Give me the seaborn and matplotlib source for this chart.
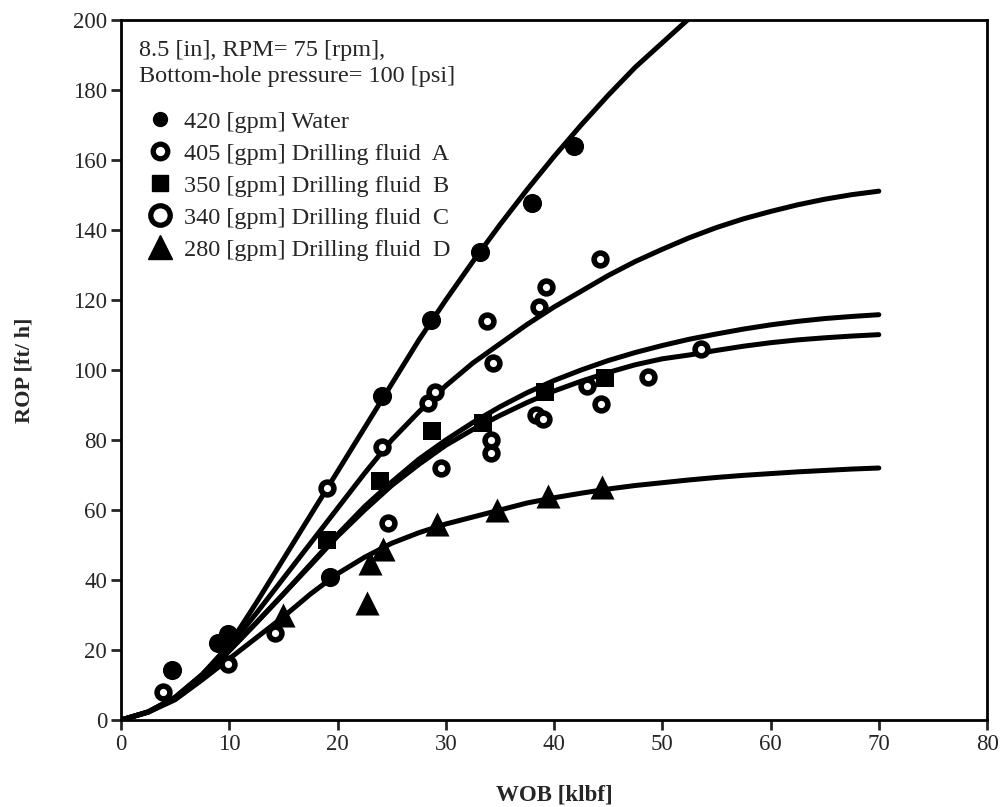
import matplotlib
matplotlib.use("Agg")
import matplotlib.pyplot as plt
from matplotlib.lines import Line2D
import seaborn as sns

# ---------------------------
# Measured points (WOB [klbf], ROP [ft/h])
# ---------------------------
water_wob = [4.7, 9.0, 9.9, 19.3, 24.1, 28.6, 33.2, 38.0, 41.8]
water_rop = [14.3, 22.0, 24.5, 40.9, 92.6, 114.3, 133.7, 147.7, 164.0]

fluid_a_wob = [19.0, 24.1, 28.4, 29.0, 33.8, 34.4, 38.6, 39.3, 44.2]
fluid_a_rop = [66.3, 78.0, 90.6, 93.7, 114.0, 102.0, 118.0, 123.7, 131.7]

fluid_b_wob = [19.0, 23.9, 28.7, 33.4, 39.2, 44.7]
fluid_b_rop = [51.4, 68.3, 82.6, 84.9, 93.7, 97.7]

fluid_c_wob = [3.9, 9.9, 14.2, 24.7, 29.6, 34.2, 34.2, 38.3, 39.0, 43.0, 44.3, 48.7, 53.6]
fluid_c_rop = [8.0, 16.0, 24.9, 56.3, 72.0, 76.3, 80.0, 87.1, 86.0, 95.4, 90.3, 98.0, 106.0]

fluid_d_wob = [15.0, 22.7, 23.0, 24.2, 29.2, 34.7, 39.4, 44.4]
fluid_d_rop = [30.0, 33.4, 45.0, 49.0, 56.0, 60.0, 64.0, 66.5]

# ---------------------------
# Fitted curves
# ---------------------------
fit_wob = [0, 2.5, 5, 7.5, 10, 12.5, 15, 17.5, 20, 22.5, 25, 27.5, 30, 32.5, 35,
           37.5, 40, 42.5, 45, 47.5, 50, 52.5, 55, 57.5, 60, 62.5, 65, 67.5, 70]
fit_water = [0, 2.3, 6.5, 13, 21.5, 33.5, 46, 58.5, 71, 83.5, 96, 108.5, 120, 131, 141.5,
             151.5, 161, 170, 178.5, 186.5, 193.5, 200.5]
fit_a = [0, 2.3, 6.5, 13, 21, 30.5, 40.5, 50.5, 60.5, 70.5, 80, 88, 95.5, 102, 107.5,
         113, 118, 122.5, 127, 131, 134.5, 137.8, 140.7, 143.2, 145.3, 147.2, 148.8, 150.1, 151.1]
fit_b = [0, 2.3, 6.2, 12.3, 19.8, 27.8, 36, 44.5, 53, 61, 68, 74.5, 80, 85, 89.5,
         93.5, 97, 100, 102.7, 105, 107, 108.8, 110.3, 111.7, 112.9, 113.9, 114.7, 115.3, 115.8]
fit_c = [0, 2.3, 6.2, 12.3, 19.8, 27.8, 36, 44.2, 52.5, 60, 67, 73, 78.5, 83, 87,
         90.7, 94, 96.8, 99.3, 101.5, 103.2, 104.3, 105.6, 106.8, 107.8, 108.6, 109.2, 109.7, 110.1]
fit_d = [0, 2.2, 5.8, 11.5, 17.5, 23.5, 29.5, 36, 41.8, 46.5, 50.5, 53.5, 56, 58, 60,
         62, 63.5, 64.8, 66, 67, 67.8, 68.6, 69.3, 69.9, 70.4, 70.9, 71.3, 71.7, 72]

sns.set_style("ticks")
plt.rcParams['font.family'] = ['Liberation Serif', 'DejaVu Serif']

fig = plt.figure(figsize=(10.02, 8.07), dpi=100)
ax = fig.add_axes([0.1208, 0.1078, 0.8643, 0.8674])

for ys in [fit_water, fit_a, fit_b, fit_c, fit_d]:
    sns.lineplot(x=fit_wob[:len(ys)], y=ys, ax=ax, color='black', linewidth=3.6,
                 sort=False, zorder=2)

# Points
sns.scatterplot(x=water_wob, y=water_rop, ax=ax, marker='o', s=190,
                color='black', edgecolor='black', linewidth=0, zorder=3)
sns.scatterplot(x=fluid_a_wob, y=fluid_a_rop, ax=ax, marker='o', s=85,
                facecolor='white', edgecolor='black', linewidth=4, zorder=3)
sns.scatterplot(x=fluid_c_wob, y=fluid_c_rop, ax=ax, marker='o', s=85,
                facecolor='white', edgecolor='black', linewidth=4, zorder=3)
sns.scatterplot(x=fluid_b_wob, y=fluid_b_rop, ax=ax, marker='s', s=170,
                color='black', edgecolor='black', linewidth=0, zorder=3)
sns.scatterplot(x=fluid_d_wob, y=fluid_d_rop, ax=ax, marker='^', s=300,
                color='black', edgecolor='black', linewidth=0, zorder=3)

ax.set_xlim(0, 80)
ax.set_ylim(0, 200)
ax.set_xticks(range(0, 81, 10))
ax.set_yticks(range(0, 201, 20))
ax.set_xlabel("WOB [klbf]", fontsize=16.5, fontweight='bold', labelpad=21)
ax.set_ylabel("ROP [ft/ h]", fontsize=16, fontweight='bold', labelpad=28)
ax.tick_params(axis='both', direction='out', length=7, width=2, labelsize=16.5, pad=3)
for sp in ax.spines.values():
    sp.set_visible(True)
    sp.set_linewidth(2)
    sp.set_color('black')

ax.text(0.021, 0.971, "8.5 [in], RPM= 75 [rpm],\nBottom-hole pressure= 100 [psi]",
        transform=ax.transAxes, ha='left', va='top', fontsize=17.5, linespacing=1.3)

handles = [
    Line2D([], [], ls='none', marker='o', ms=10, color='black'),
    Line2D([], [], ls='none', marker='o', ms=10.5, mfc='white', mec='black', mew=3.8),
    Line2D([], [], ls='none', marker='s', ms=12, color='black'),
    Line2D([], [], ls='none', marker='o', ms=14, mfc='white', mec='black', mew=3.8),
    Line2D([], [], ls='none', marker='^', ms=17, color='black'),
]
labels = ["420 [gpm] Water",
          "405 [gpm] Drilling fluid  A",
          "350 [gpm] Drilling fluid  B",
          "340 [gpm] Drilling fluid  C",
          "280 [gpm] Drilling fluid  D"]
ax.legend(handles, labels, loc='upper left', bbox_to_anchor=(0.0196, 0.884),
          frameon=False, prop={'family': 'Liberation Serif', 'size': 17.5},
          handlelength=1.0, handletextpad=0.5, labelspacing=0.41, borderaxespad=0,
          borderpad=0.4)

fig.savefig("out.png", dpi=100)
